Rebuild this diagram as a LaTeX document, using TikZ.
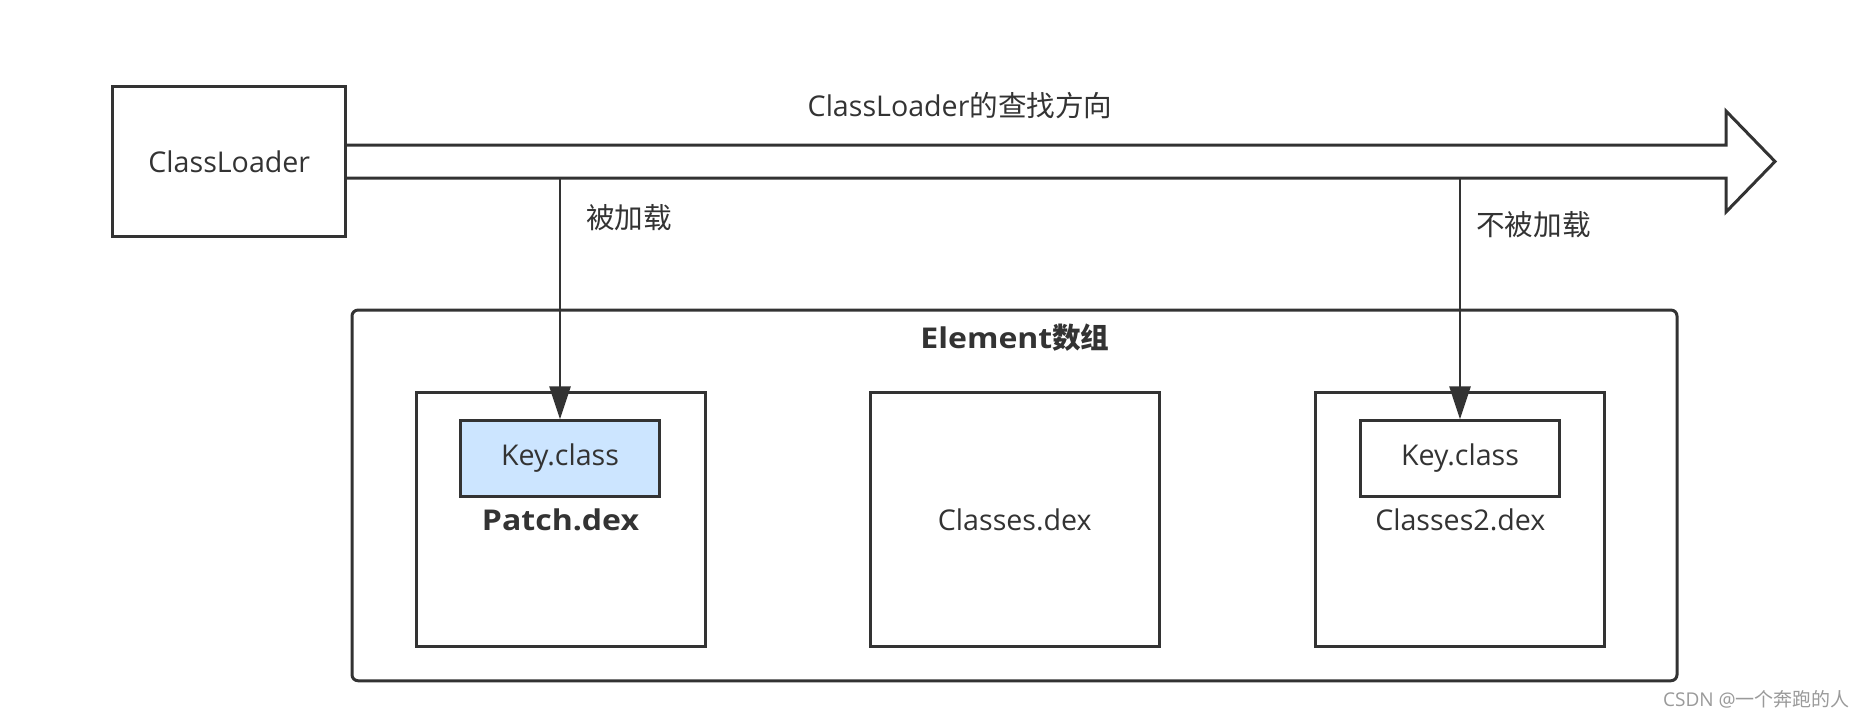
\documentclass[tikz,border=0pt]{standalone}
\usepackage{fontspec}
\setmainfont{Open Sans}
\newfontfamily\cjk{Noto Sans CJK SC}
\newfontfamily\widebold{Open Sans Bold}[FakeStretch=1.12]
\usetikzlibrary{arrows.meta}
\definecolor{ln}{HTML}{333333}
\definecolor{keyblue}{HTML}{CCE5FF}
\definecolor{wm}{HTML}{9A9A9A}
\begin{document}
\begin{tikzpicture}[x=1pt,y=-1pt,
  every node/.style={text=ln, font=\fontsize{28.6}{34}\selectfont},
  frame/.style={draw=ln, line width=3pt, rectangle, inner sep=0pt, fill=white},
  dexbox/.style={frame, minimum width=289pt, minimum height=254pt},
  keybox/.style={frame, minimum width=198.5pt, minimum height=75.3pt},
  bigarr/.style={draw=ln, line width=3pt, line join=miter},
  conn/.style={draw=ln, line width=2.7pt, -{Triangle[length=33pt,width=21pt]}},
  lbl/.style={inner sep=0pt, anchor=base west},
]
\useasboundingbox (0,0) rectangle (1866,720);
\fill[white] (0,0) rectangle (1866,720);

% ClassLoader box
\node[frame, minimum width=232.7pt, minimum height=150pt] (cl) at (229.3,161.7) {ClassLoader};

% search-direction block arrow
\coordinate (tip) at (1775,161.5);
\draw[bigarr] (345.7,145) -- (1726,145) -- (1726,111) -- (tip) -- (1726,212) -- (1726,178) -- (345.7,178);
\node[lbl] (dir) at (807.5,116.5) {ClassLoader{\cjk 的查找方向}};

% Element array
\node[draw=ln, line width=3pt, rounded corners=6pt, inner sep=0pt,
      minimum width=1325pt, minimum height=370.7pt] (elem) at (1014.5,495.4) {};
\node[inner sep=0pt, anchor=base] (elemtitle) at (1015,348) {\widebold Element{\cjk\bfseries 数组}};

\node[dexbox] (patch) at (560.5,519.5) {\widebold Patch.dex};
\node[dexbox] (classes) at (1014.8,519.5) {Classes.dex};
\node[dexbox] (classes2) at (1460.3,519.5) {Classes2.dex};

\node[keybox, fill=keyblue] (key1) at (560,458.5) {Key.class};
\node[keybox] (key2) at (1460,458.5) {Key.class};

% connectors
\coordinate (d1) at (560,178);
\coordinate (d2) at (1460,178);
\draw[conn] (d1) -- (key1.north);
\draw[conn] (d2) -- (key2.north);
\node[lbl] (loaded) at (586,228.5) {\cjk 被加载};
\node[lbl] (notloaded) at (1476,235.5) {\cjk 不被加载};

% watermark
\node[inner sep=0pt, anchor=base east, text=wm, font=\fontsize{19}{22}\selectfont] (wmark) at (1850,706.5) {CSDN @{\cjk 一个奔跑的人}};
\end{tikzpicture}
\end{document}
